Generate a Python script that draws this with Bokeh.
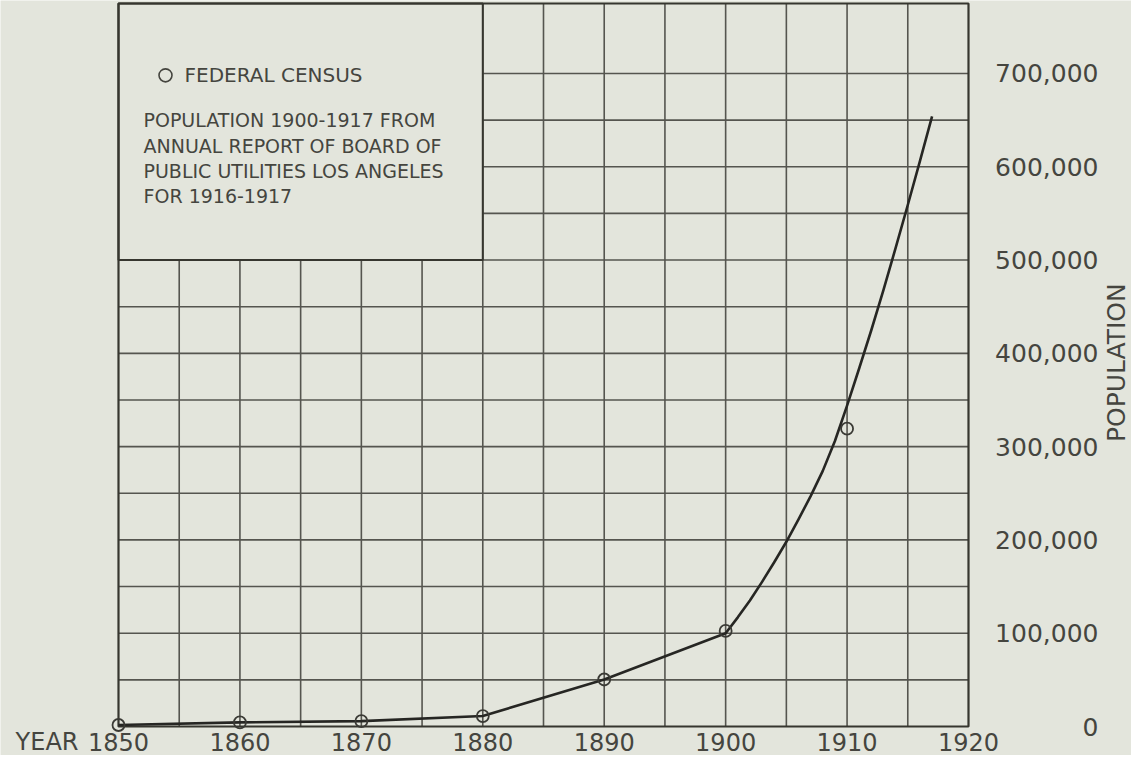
import math
from bokeh.plotting import figure
from bokeh.models import Range1d
from bokeh.core.properties import value
from bokeh.embed import file_html
from bokeh.resources import INLINE

# ---- data ----
census_years = [1850, 1860, 1870, 1880, 1890, 1900, 1910]
census_pop = [1610, 4385, 5728, 11183, 50395, 102479, 319198]

report_years = [1900, 1901, 1902, 1903, 1904, 1905, 1906, 1907, 1908,
                1909, 1910, 1911, 1912, 1913, 1914, 1915, 1916, 1917]
report_pop = [100000, 117000, 135000, 155000, 176000, 198000, 222000, 247000, 274000,
              306000, 344000, 384000, 425000, 468000, 513000, 559000, 606000, 654000]

x_ticks = [1850, 1860, 1870, 1880, 1890, 1900, 1910, 1920]
x_tick_labels = [str(t) for t in x_ticks]
y_ticks = [0, 100000, 200000, 300000, 400000, 500000, 600000, 700000]
y_tick_labels = ["0", "100,000", "200,000", "300,000", "400,000", "500,000", "600,000", "700,000"]
x_grid = [1855, 1860, 1865, 1870, 1875, 1880, 1885, 1890, 1895, 1900, 1905, 1910, 1915]
y_grid = [50000 * i for i in range(1, 15)]

legend_title = "FEDERAL CENSUS"
note_lines = ["POPULATION 1900-1917 FROM",
              "ANNUAL REPORT OF BOARD OF",
              "PUBLIC UTILITIES LOS ANGELES",
              "FOR 1916-1917"]

# ---- layout (pixels on the canvas) ----
W, H = 1131, 755
X0, X1 = 1850, 1920          # chart box in data
Y0, Y1 = 0, 775000
LEFT_PX, RIGHT_PX = 118, 968
TOP_PX, BOTTOM_PX = 3, 726

xs = (X1 - X0) / (RIGHT_PX - LEFT_PX)
ys = (Y1 - Y0) / (BOTTOM_PX - TOP_PX)


def px_x(px):
    return X0 + (px - LEFT_PX) * xs


def px_y(py):
    return Y0 + (BOTTOM_PX - py) * ys


PAPER = "#e3e5dc"
INK = "#45453f"
GRID = "#55554f"
FRAME = "#36362f"
FONT = "DejaVu Sans"

curve_x = census_years[:5] + report_years
curve_y = census_pop[:5] + report_pop

p = figure(width=W, height=H, output_backend="svg", toolbar_location=None,
           x_range=Range1d(px_x(0), px_x(W)), y_range=Range1d(px_y(H), px_y(0)),
           x_axis_location=None, y_axis_location=None,
           min_border=0, min_border_left=0, min_border_right=0,
           min_border_top=0, min_border_bottom=0)
p.background_fill_color = PAPER
p.border_fill_color = PAPER
p.outline_line_color = None
p.xgrid.visible = False
p.ygrid.visible = False

# grid lines inside the chart box
p.segment(x0=x_grid, y0=[Y0] * len(x_grid), x1=x_grid, y1=[Y1] * len(x_grid),
          line_color=GRID, line_width=1.6)
p.segment(x0=[X0] * len(y_grid), y0=y_grid, x1=[X1] * len(y_grid), y1=y_grid,
          line_color=GRID, line_width=1.6)

# legend box covering the grid
p.quad(left=[X0], right=[1880], bottom=[500000], top=[Y1],
       fill_color=PAPER, line_color=FRAME, line_width=2)
# outer frame
p.quad(left=[X0], right=[X1], bottom=[Y0], top=[Y1],
       fill_color=None, line_color=FRAME, line_width=2.2)

# legend symbol and texts
p.scatter(x=[px_x(165)], y=[698000], size=13, marker="circle", fill_color=None,
          line_color=INK, line_width=1.6)
p.text(x=[px_x(184)], y=[698000], text=[legend_title], text_font=value(FONT),
       text_font_size="20px", text_color=INK, text_baseline="middle", text_align="left")
note_y = [649800, 621900, 595000, 568200]
p.text(x=[px_x(143)] * 4, y=note_y, text=note_lines, text_font=value(FONT),
       text_font_size="19px", text_color=INK, text_baseline="middle", text_align="left")

# curve and census points
p.line(curve_x, curve_y, line_color="#262623", line_width=2.6, line_join="round")
p.scatter(census_years, census_pop, size=12, marker="circle", fill_color=None,
          line_color="#3a3a35", line_width=1.8)

# x tick labels and "YEAR"
lab_y = px_y(741)
p.text(x=x_ticks, y=[lab_y] * len(x_ticks), text=x_tick_labels, text_font=value(FONT),
       text_font_size="24px", text_color=INK, text_align="center", text_baseline="middle")
p.text(x=[px_x(78)], y=[lab_y], text=["YEAR"], text_font=value(FONT),
       text_font_size="24px", text_color=INK, text_align="right", text_baseline="middle")

# right-hand population labels (right aligned)
p.text(x=[px_x(1098)] * len(y_ticks), y=y_ticks, text=y_tick_labels, text_font=value(FONT),
       text_font_size="25px", text_color=INK, text_align="right", text_baseline="middle")
p.text(x=[px_x(1116)], y=[390000], text=["POPULATION"], angle=math.pi / 2,
       text_font=value(FONT), text_font_size="25px", text_color=INK,
       text_align="center", text_baseline="middle")

open("out.html", "w").write(file_html(p, INLINE))
